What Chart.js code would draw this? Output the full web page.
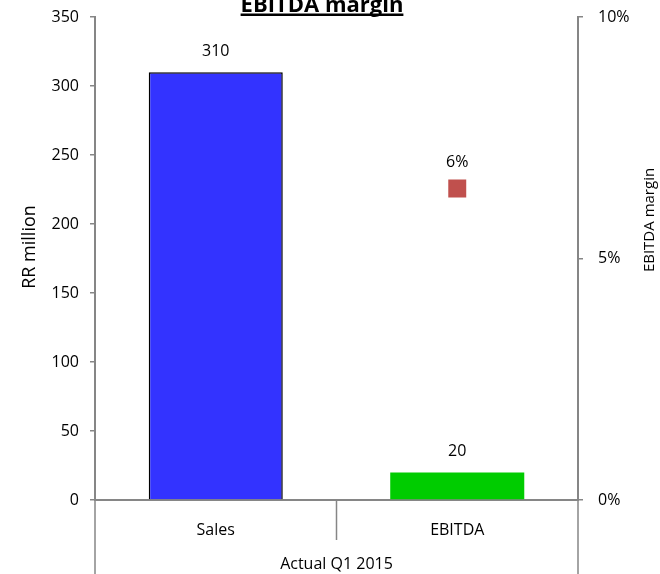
<!DOCTYPE html>
<html>
<head>
<meta charset="utf-8">
<script src="https://cdn.jsdelivr.net/npm/chart.js@4.4.1/dist/chart.umd.min.js"></script>
<style>
  html, body { margin: 0; padding: 0; background: #ffffff; }
  #wrap { width: 660px; height: 574px; position: relative; }
</style>
</head>
<body>
<div id="wrap"><canvas id="chart" width="660" height="574"></canvas></div>
<script>
// Categories and values
const categories = ['Sales', 'EBITDA'];
const groupLabel = 'Actual Q1 2015';
const amounts = [310, 20];          // RR million
const marginValues = [null, 0.0645]; // EBITDA margin (EBITDA / Sales)
const leftTicks = [0, 50, 100, 150, 200, 250, 300, 350];
const rightTicks = [0, 0.05, 0.10];

const FONT = '"Open Sans", "Noto Sans", sans-serif';
const AXIS_GREY = '#868686';

// Value labels, category group and axis titles
const annotate = {
  id: 'annotate',
  afterDraw(chart) {
    const ctx = chart.ctx;
    const x = chart.scales.x;
    const area = chart.chartArea;
    ctx.save();

    // bar value labels
    ctx.fillStyle = '#000';
    ctx.font = '16px ' + FONT;
    ctx.textAlign = 'center';
    ctx.textBaseline = 'middle';
    chart.getDatasetMeta(0).data.forEach((bar, i) => {
      ctx.fillText(String(amounts[i]), bar.x, bar.y - 21);
    });
    // margin label
    chart.getDatasetMeta(1).data.forEach((pt, i) => {
      if (marginValues[i] == null) return;
      ctx.fillText(Math.round(marginValues[i] * 100) + '%', pt.x, pt.y - 26);
    });

    // category separators below the axis
    ctx.strokeStyle = AXIS_GREY;
    ctx.lineWidth = 1.5;
    const left = x.left, right = x.right;
    const mid = (x.getPixelForValue(0) + x.getPixelForValue(1)) / 2;
    ctx.beginPath();
    ctx.moveTo(left, area.bottom); ctx.lineTo(left, chart.height);
    ctx.moveTo(right, area.bottom); ctx.lineTo(right, chart.height);
    ctx.moveTo(mid, area.bottom); ctx.lineTo(mid, area.bottom + 40);
    ctx.stroke();

    // group label
    ctx.fillText(groupLabel, (left + right) / 2, 564);

    // left axis title
    ctx.save();
    ctx.translate(30, 247);
    ctx.rotate(-Math.PI / 2);
    ctx.font = '18px ' + FONT;
    ctx.fillText('RR million', 0, 0);
    ctx.restore();

    // right axis title
    ctx.save();
    ctx.translate(650, 220);
    ctx.rotate(-Math.PI / 2);
    ctx.font = '15px ' + FONT;
    ctx.fillText('EBITDA margin', 0, 0);
    ctx.restore();

    // chart title (bold, underlined)
    ctx.font = 'bold 22px ' + FONT;
    ctx.textBaseline = 'alphabetic';
    const title = 'EBITDA margin';
    const tx = 322;
    ctx.fillText(title, tx, 12);
    const w = ctx.measureText(title).width;
    ctx.fillRect(tx - w / 2, 13.5, w, 2.5);

    ctx.restore();
  }
};

// keep the plot area edges fixed regardless of tick label height
function noVerticalPadding(scale) {
  scale.paddingTop = 0;
  scale.paddingBottom = 0;
}

new Chart(document.getElementById('chart'), {
  data: {
    labels: categories,
    datasets: [
      {
        type: 'bar',
        label: 'RR million',
        data: amounts,
        yAxisID: 'y',
        backgroundColor: ['#3333FF', '#00CC00'],
        borderColor: ['#000000', 'rgba(0,0,0,0)'],
        borderWidth: [1.5, 0],
        borderSkipped: 'bottom',
        barPercentage: 0.555,
        categoryPercentage: 1.0,
        order: 2
      },
      {
        type: 'line',
        label: 'EBITDA margin',
        data: marginValues,
        yAxisID: 'y1',
        showLine: false,
        pointStyle: 'rect',
        pointRadius: 12.7,
        pointHoverRadius: 12.7,
        pointBackgroundColor: '#C0504D',
        pointBorderColor: '#C0504D',
        pointBorderWidth: 0,
        order: 1
      }
    ]
  },
  options: {
    responsive: false,
    animation: false,
    layout: { padding: { top: 17, bottom: 0, left: 0, right: 0 } },
    plugins: {
      legend: { display: false },
      tooltip: { enabled: false },
      title: { display: false }
    },
    scales: {
      x: {
        type: 'category',
        offset: true,
        grid: { display: false },
        border: { display: true, color: AXIS_GREY, width: 2 },
        ticks: { color: '#000', font: { family: FONT, size: 16 }, padding: 13 },
        afterFit(scale) { scale.height = 74; scale.paddingLeft = 0; scale.paddingRight = 0; }
      },
      y: {
        position: 'left',
        min: 0, max: 350,
        afterBuildTicks(scale) { scale.ticks = leftTicks.map(v => ({ value: v })); },
        grid: { drawOnChartArea: false, tickLength: 5, color: AXIS_GREY, lineWidth: 1.5 },
        border: { display: true, color: AXIS_GREY, width: 2 },
        ticks: { color: '#000', font: { family: FONT, size: 16 }, padding: 11 },
        afterFit(scale) { scale.width = 95; noVerticalPadding(scale); }
      },
      y1: {
        position: 'right',
        min: 0, max: 0.10,
        afterBuildTicks(scale) { scale.ticks = rightTicks.map(v => ({ value: v })); },
        grid: { drawOnChartArea: false, tickLength: 5, color: AXIS_GREY, lineWidth: 1.5 },
        border: { display: true, color: AXIS_GREY, width: 2 },
        ticks: {
          color: '#000', font: { family: FONT, size: 16 }, padding: 15,
          callback: v => Math.round(v * 100) + '%'
        },
        afterFit(scale) { scale.width = 82; noVerticalPadding(scale); }
      }
    }
  },
  plugins: [annotate]
});
</script>
</body>
</html>
